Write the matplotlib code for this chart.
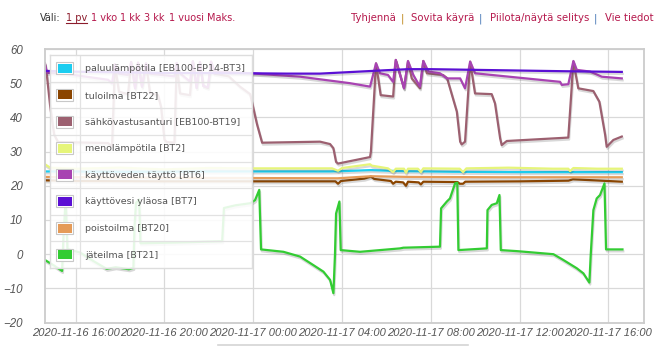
import matplotlib
matplotlib.use("Agg")
import matplotlib.pyplot as plt
from matplotlib import patheffects as pe
from matplotlib.patches import Rectangle
from matplotlib.lines import Line2D

W, H = 666, 349

# hours counted from 2020-11-16 00:00
tick_hours = [16, 20, 24, 28, 32, 36, 40]
tick_labels = ["2020-11-16 16:00", "2020-11-16 20:00", "2020-11-17 00:00",
               "2020-11-17 04:00", "2020-11-17 08:00", "2020-11-17 12:00",
               "2020-11-17 16:00"]
x_range = (14.62, 41.6)
y_ticks = [-20, -10, 0, 10, 20, 30, 40, 50, 60]

names = ["paluulämpötila [EB100-EP14-BT3]", "tuloilma [BT22]",
         "sähkövastusanturi [EB100-BT19]", "menolämpötila [BT2]",
         "käyttöveden täyttö [BT6]", "käyttövesi yläosa [BT7]",
         "poistoilma [BT20]", "jäteilma [BT21]"]
colors = ["#1ccdf0", "#8b4500", "#9c6070", "#e6f57a",
          "#a843b2", "#5b10d4", "#e59b58", "#33cc33"]

bt3_t = [14.62, 18.0, 22.0, 27.5, 28.5, 29.3, 30.5, 33.0, 36.0, 40.6]
bt3_v = [24.2, 24.1, 24.2, 24.2, 24.4, 24.6, 24.3, 24.1, 24.0, 24.0]

bt22_t = [14.62, 16.0, 20.0, 24.0, 27.7, 27.82, 27.95, 29.0, 29.3, 29.45, 30.2,
          30.3, 30.42, 30.75, 30.88, 30.97, 31.45, 31.55, 31.66, 33.2, 33.3,
          33.45, 33.55, 36.0, 38.2, 38.4, 40.6]
bt22_v = [21.6, 21.4, 21.3, 21.3, 21.3, 20.6, 21.4, 22.1, 22.7, 22.0, 21.4,
          20.6, 21.2, 21.0, 20.0, 21.2, 21.0, 20.4, 21.2, 21.1, 20.6,
          20.6, 21.2, 21.3, 21.5, 21.9, 21.2]

bt19_t = [14.62, 14.71, 14.85, 15.03, 15.21, 17.46, 17.64, 17.77, 17.95, 18.36,
          18.5, 18.68, 18.81, 18.99, 19.17, 19.35, 19.71, 19.85, 20.0, 20.1,
          20.45, 20.55, 20.7, 21.15, 21.28, 21.45, 21.6, 21.75, 21.96, 22.1,
          22.25, 22.9, 23.4, 23.86, 24.17, 24.4, 27.01, 27.46, 27.61, 27.73,
          27.82, 29.26, 29.3, 29.53, 29.74, 30.3, 30.42, 30.79, 30.97, 31.14,
          31.51, 31.66, 31.82, 32.55, 32.73, 33.17, 33.32, 33.39, 33.54, 33.77,
          33.99, 34.74, 34.89, 35.12, 35.19, 35.42, 38.19, 38.42, 38.64, 39.32,
          39.59, 39.85, 39.92, 40.22, 40.6]
bt19_v = [55.8, 52.0, 43.5, 35.0, 32.8, 32.5, 31.5, 55.5, 47.5, 46.8,
          56.2, 48.5, 56.0, 49.0, 55.8, 47.2, 46.5, 43.0, 33.5, 32.8,
          32.6, 55.9, 47.0, 46.5, 56.4, 48.6, 56.2, 49.2, 48.6, 56.3,
          52.8, 52.0, 49.0, 46.8, 38.0, 32.6, 32.9, 32.2, 31.0, 27.0,
          26.5, 28.4, 30.0, 55.8, 46.5, 46.1, 56.8, 48.5, 56.3, 51.4,
          48.5, 56.5, 52.9, 52.4, 51.5, 41.7, 32.9, 32.1, 32.9, 56.3,
          47.0, 46.8, 44.1, 33.9, 31.9, 33.1, 34.1, 56.3, 48.5, 47.7,
          44.6, 34.9, 31.4, 33.4, 34.4]

bt2_t = [14.62, 14.85, 16.0, 18.0, 20.0, 22.0, 24.0, 26.0, 27.55, 27.82, 28.0,
         28.68, 29.26, 29.34, 30.07, 30.3, 30.42, 30.79, 30.88, 30.97, 31.42,
         31.55, 31.66, 33.3, 33.45, 33.6, 35.5, 37.5, 38.19, 38.27, 38.42,
         39.5, 40.6]
bt2_v = [26.3, 25.3, 25.0, 25.3, 24.8, 25.2, 25.1, 25.1, 25.1, 24.4, 25.2,
         25.8, 26.3, 25.9, 25.1, 24.0, 25.0, 25.0, 23.8, 25.0, 25.0,
         24.0, 25.1, 25.0, 24.0, 25.1, 25.3, 25.0, 25.0, 24.3, 25.2,
         25.0, 25.0]

bt6_t = [14.62, 14.71, 15.5, 17.46, 17.64, 17.77, 17.95, 18.36, 18.5, 18.68,
         18.81, 18.99, 19.17, 19.35, 20.45, 20.55, 20.7, 21.15, 21.28, 21.45,
         21.6, 21.75, 21.96, 22.1, 22.25, 23.86, 26.11, 28.36, 29.26, 29.53,
         29.71, 30.07, 30.3, 30.42, 30.79, 30.97, 31.21, 31.51, 31.66, 31.89,
         32.41, 32.72, 33.32, 33.54, 33.77, 33.99, 37.82, 37.9, 38.19, 38.42,
         38.57, 39.17, 39.7, 40.6]
bt6_v = [55.5, 53.0, 52.8, 51.0, 50.0, 55.5, 52.8, 52.4, 56.2, 48.5,
         56.0, 49.0, 55.8, 52.8, 52.0, 55.9, 52.9, 50.5, 56.4, 48.6,
         56.2, 49.2, 48.8, 56.3, 53.4, 52.9, 51.9, 50.0, 49.0, 55.8,
         52.9, 52.4, 50.4, 56.8, 48.5, 56.5, 52.4, 49.0, 56.5, 53.4,
         52.9, 51.4, 51.4, 48.5, 56.3, 52.9, 50.4, 49.5, 49.7, 56.5,
         53.9, 53.4, 51.9, 51.4]

bt7_t = [14.62, 16.5, 20.0, 23.86, 25.5, 27.0, 28.5, 30.0, 31.0, 32.0, 34.0,
         36.0, 38.0, 40.6]
bt7_v = [53.6, 53.3, 53.0, 52.9, 52.8, 52.8, 53.3, 53.8, 54.1, 54.1, 53.9,
         53.7, 53.5, 53.3]

bt20_t = [14.62, 18.0, 22.0, 27.8, 29.3, 31.0, 35.0, 40.6]
bt20_v = [22.6, 22.4, 22.3, 22.2, 22.8, 22.6, 22.5, 22.5]

bt21_t = [14.62, 15.0, 15.39, 15.45, 15.55, 15.63, 16.2, 16.8, 17.4, 17.8,
          18.4, 18.6, 18.65, 18.72, 18.86, 18.92, 20.5, 22.6, 22.68, 23.2,
          23.86, 24.08, 24.27, 24.35, 25.36, 26.11, 26.71, 27.16, 27.46, 27.61,
          27.68, 27.73, 27.88, 27.94, 28.81, 30.61, 30.76, 32.41, 32.46, 32.72,
          32.86, 33.09, 33.19, 33.24, 34.52, 34.55, 34.74, 34.97, 35.09, 35.15,
          35.87, 37.52, 37.97, 38.57, 38.87, 39.14, 39.2, 39.32, 39.47, 39.62,
          39.82, 39.89, 40.63]
bt21_v = [-1.7, -3.2, -4.9, 5.0, 16.0, 1.5, 0.5, -2.0, -4.3, -3.8,
          -4.4, -4.0, 8.0, 15.0, 16.0, 3.2, 3.4, 3.8, 13.5, 14.3,
          14.9, 15.8, 18.8, 1.4, 0.7, -0.7, -3.2, -5.1, -7.5, -11.4,
          -0.3, 11.9, 15.4, 1.2, 0.7, 1.7, 1.9, 2.2, 13.4, 15.4,
          16.3, 20.7, 20.9, 1.2, 1.7, 12.9, 14.4, 14.9, 17.3, 1.2,
          0.9, 0.0, -1.7, -4.1, -5.6, -8.3, -0.2, 12.9, 16.3, 17.3,
          20.7, 1.4, 1.4]

series = [(bt3_t, bt3_v), (bt22_t, bt22_v), (bt19_t, bt19_v), (bt2_t, bt2_v),
          (bt6_t, bt6_v), (bt7_t, bt7_v), (bt20_t, bt20_v), (bt21_t, bt21_v)]

text_grey = "#545454"
link_red = "#b5184c"

fig = plt.figure(figsize=(W / 100, H / 100), dpi=100)
fig.patch.set_facecolor("white")


def px(x, y):
    # pixel position (from top-left) to figure fraction
    return x / W, 1 - y / H


ax = fig.add_axes([45 / W, (H - 322.6) / H, 599 / W, 273.6 / H])
shadow = [pe.SimpleLineShadow(offset=(0.6, -1.4), shadow_color="0.25", alpha=0.2),
          pe.Normal()]
for (t, v), c in zip(series, colors):
    ax.plot(t, v, color=c, lw=1.6, solid_joinstyle="round", path_effects=shadow)

ax.set_xlim(*x_range)
ax.set_ylim(-20, 60)
ax.set_xticks(tick_hours)
ax.set_xticklabels(tick_labels)
ax.set_yticks(y_ticks)
ax.grid(True, color="#d9d9d9", lw=0.9)
ax.set_axisbelow(True)
for s in ax.spines.values():
    s.set_color("#cccccc")
    s.set_linewidth(1.3)
ax.tick_params(axis="both", length=0, colors=text_grey)
ax.tick_params(axis="y", pad=16)
ax.tick_params(axis="x", pad=4)
for lab in ax.get_xticklabels() + ax.get_yticklabels():
    lab.set_fontfamily("Liberation Sans")
    lab.set_fontstyle("italic")
    lab.set_fontsize(8)
for lab in ax.get_yticklabels():
    lab.set_fontsize(8.3)

# legend box on top of the plot
lax = fig.add_axes([50 / W, (H - 268) / H, 202 / W, 213 / H])
lax.set_xlim(0, 202)
lax.set_ylim(213, 0)
lax.patch.set_facecolor((1, 1, 1, 0.88))
lax.set_xticks([])
lax.set_yticks([])
for s in lax.spines.values():
    s.set_color("#dddddd")
    s.set_linewidth(1)
row_h = 213 / len(names)
for i in range(1, len(names)):
    lax.axhline(i * row_h, color="#e2e2e2", lw=0.9)
lax.axvline(30, color="#e2e2e2", lw=0.9)
for i, (name, c) in enumerate(zip(names, colors)):
    yc = (i + 0.5) * row_h
    lax.add_patch(Rectangle((6, yc - 6), 17, 12, facecolor="white",
                            edgecolor="#c8c8c8", lw=0.8))
    lax.add_patch(Rectangle((7.7, yc - 4.5), 14, 9, facecolor=c, edgecolor="none"))
    lax.text(35, yc + 0.5, name, fontsize=6.8, color=text_grey,
             family="DejaVu Sans", va="center", ha="left")

# header links: (text, x pixel, colour, underlined, size)
header = [("Väli:", 40, "#333333", False, 7.0),
          ("1 pv", 66, "#8c1c2c", True, 7.0),
          ("1 vko", 91, link_red, False, 7.0),
          ("1 kk", 120, link_red, False, 7.0),
          ("3 kk", 144, link_red, False, 7.0),
          ("1 vuosi", 169, link_red, False, 7.0),
          ("Maks.", 207, link_red, False, 7.0),
          ("Tyhjennä", 351, link_red, False, 7.3),
          ("|", 401, "#c08a20", False, 7.3),
          ("Sovita käyrä", 411, link_red, False, 7.3),
          ("|", 479, "#4a7ab8", False, 7.3),
          ("Piilota/näytä selitys", 490, link_red, False, 7.3),
          ("|", 594, "#4a7ab8", False, 7.3),
          ("Vie tiedot", 605, link_red, False, 7.3)]

renderer = fig.canvas.get_renderer()
for s, x, col, under, size in header:
    t = fig.text(*px(x, 21), s, fontsize=size, color=col,
                 family="DejaVu Sans", va="baseline", ha="left")
    if under:
        bb = t.get_window_extent(renderer)
        fig.add_artist(Line2D([bb.x0 / W, bb.x1 / W], [1 - 23 / H] * 2,
                              color=col, lw=0.8))

fig.add_artist(Line2D([218 / W, 468 / W], [1 - 345 / H] * 2, color="#d4d4d4", lw=1.2))

fig.savefig("out.png", dpi=100)
